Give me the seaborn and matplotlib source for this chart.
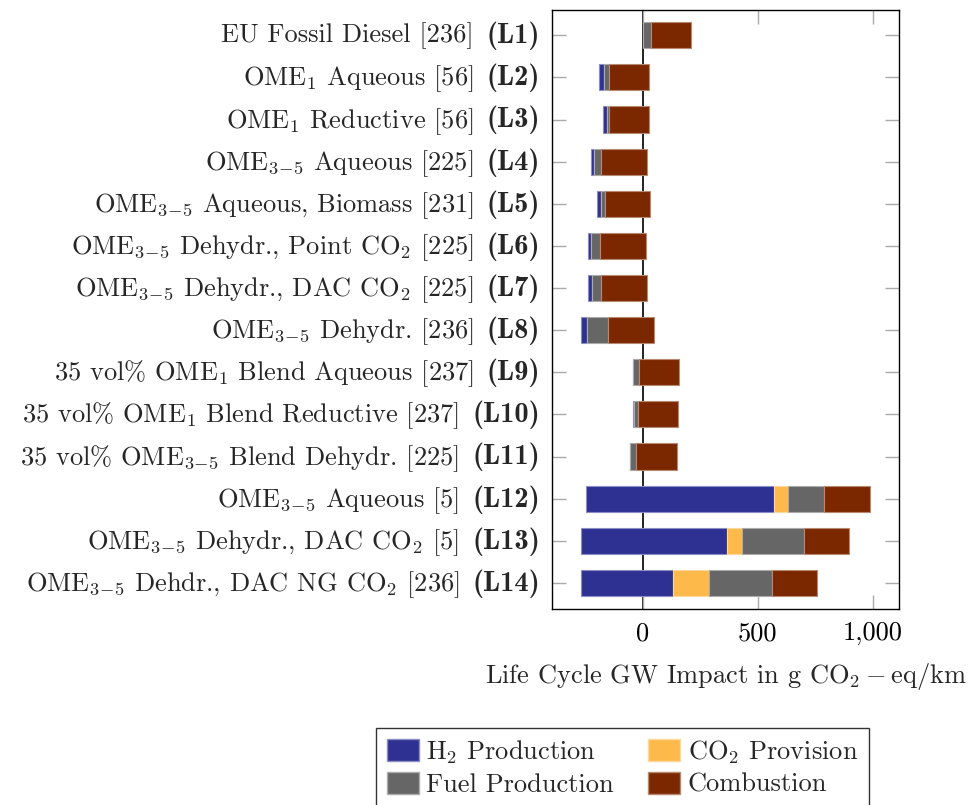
import numpy as np
import pandas as pd
import seaborn as sns
import matplotlib
matplotlib.use("Agg")
import matplotlib.pyplot as plt
from matplotlib.patches import Patch
from matplotlib.colors import to_rgb
from matplotlib.transforms import blended_transform_factory, ScaledTranslation

# Pathway names and their bold identifiers (top to bottom)
names = [
    r"EU Fossil Diesel [236]",
    r"OME$_1$ Aqueous [56]",
    r"OME$_1$ Reductive [56]",
    r"OME$_{3\!-\!5}$ Aqueous [225]",
    r"OME$_{3\!-\!5}$ Aqueous, Biomass [231]",
    r"OME$_{3\!-\!5}$ Dehydr., Point CO$_2$ [225]",
    r"OME$_{3\!-\!5}$ Dehydr., DAC CO$_2$ [225]",
    r"OME$_{3\!-\!5}$ Dehydr. [236]",
    r"35 vol% OME$_1$ Blend Aqueous [237]",
    r"35 vol% OME$_1$ Blend Reductive [237]",
    r"35 vol% OME$_{3\!-\!5}$ Blend Dehydr. [225]",
    r"OME$_{3\!-\!5}$ Aqueous [5]",
    r"OME$_{3\!-\!5}$ Dehydr., DAC CO$_2$ [5]",
    r"OME$_{3\!-\!5}$ Dehdr., DAC NG CO$_2$ [236]",
]
ids = ["(L1)", "(L2)", "(L3)", "(L4)", "(L5)", "(L6)", "(L7)", "(L8)",
       "(L9)", "(L10)", "(L11)", "(L12)", "(L13)", "(L14)"]

# Contributions in g CO2-eq/km
co2_uptake      = [0, -189, -174, -226, -197, -239, -236, -268, -43, -41, -57, -245, -268, -268]
h2_production   = [0, 22, 20, 16, 17, 14, 17, 26, 2, 1, 3, 813, 635, 401]
co2_provision   = [0, 0, 0, 0, 0, 0, 0, 0, 0, 0, 0, 61, 63, 154]
fuel_production = [35, 20, 7, 27, 16, 38, 36, 90, 24, 18, 24, 158, 270, 274]
combustion      = [174, 176, 176, 200, 196, 200, 200, 200, 174, 175, 179, 201, 198, 197]

series = ["H$_2$ Production", "CO$_2$ Provision", "Fuel Production", "Combustion"]
colors = ["#2e3192", "#fdb94a", "#666666", "#7b2800"]

sns.set_theme(style="white")
plt.rcParams["font.family"] = ["cmr10"]
plt.rcParams["mathtext.fontset"] = "cm"
plt.rcParams["axes.unicode_minus"] = False
plt.rcParams["axes.formatter.use_mathtext"] = True

FS = 19
FS_BOLD = 20.5

df = pd.DataFrame({
    "name": names,
    "uptake": co2_uptake,
    series[0]: h2_production,
    series[1]: co2_provision,
    series[2]: fuel_production,
    series[3]: combustion,
})

fig = plt.figure(figsize=(9.69, 8.05), dpi=100)
ax_w_px = 899 - 552
ax = fig.add_axes([552 / 969, 1 - 609 / 805, ax_w_px / 969, (609 - 10) / 805])

def lighten(c, f=0.45):
    r, g, b = to_rgb(c)
    return (r + (1 - r) * f, g + (1 - g) * f, b + (1 - b) * f)

# zero reference line behind the bars
ax.axvline(0, color="#222222", lw=1.4, zorder=0)

left = df["uptake"].to_numpy(dtype=float)
ypos = np.arange(len(df))
for name, col in zip(series, colors):
    vals = df[name].to_numpy(dtype=float)
    sns.barplot(x=vals, y=ypos, left=left, orient="h", ax=ax,
                color=col, saturation=1, edgecolor=lighten(col), linewidth=0.8,
                width=0.62, native_scale=True, zorder=2)
    left = left + vals

ax.set_ylim(13.62, -0.6)
ax.set_xlim(-394, 1113)
ax.set_yticks(ypos)
ax.set_yticklabels([])
ax.set_xticks([0, 500, 1000])
ax.set_xticklabels(["0", "500", "1,000"], fontsize=FS)
ax.tick_params(axis="both", direction="in", length=10, width=1, color="#aaaaaa",
               top=True, right=True, left=True, bottom=True, labelcolor="black", pad=9)
ax.set_ylabel("")
ax.set_xlabel(r"Life Cycle GW Impact in g $\mathrm{CO_2-eq/km}$", fontsize=19, labelpad=11)
for s in ax.spines.values():
    s.set_visible(True)
    s.set_color("black")
    s.set_linewidth(1.0)

# category labels: regular name followed by bold identifier
trans = blended_transform_factory(ax.transAxes, ax.transData) + \
    ScaledTranslation(0, 2 / 72, fig.dpi_scale_trans)
fig.canvas.draw()
renderer = fig.canvas.get_renderer()
x_end = (540 - 552) / ax_w_px
gap = 13 / ax_w_px
for y, nm, tag in zip(ypos, names, ids):
    t = ax.text(x_end, y, tag, transform=trans, ha="right", va="center_baseline",
                fontsize=FS_BOLD, family="cmb10", clip_on=False)
    w = t.get_window_extent(renderer).width / ax_w_px
    ax.text(x_end - w - gap, y, nm, transform=trans, ha="right", va="center_baseline",
            fontsize=FS, clip_on=False)

handles = [Patch(facecolor=c, edgecolor=lighten(c)) for c in colors]
order = [0, 2, 1, 3]
leg = fig.legend([handles[i] for i in order], [series[i] for i in order],
                 ncol=2, loc="upper center",
                 bbox_to_anchor=(622.5 / 969, 1 - 728 / 805), borderaxespad=0,
                 fontsize=FS, frameon=True, fancybox=False, edgecolor="black",
                 handlelength=1.2, handleheight=0.9, handletextpad=0.3,
                 columnspacing=1.3, labelspacing=0.22, borderpad=0.4)
leg.get_frame().set_linewidth(1.0)

fig.savefig("out.png", dpi=100)
